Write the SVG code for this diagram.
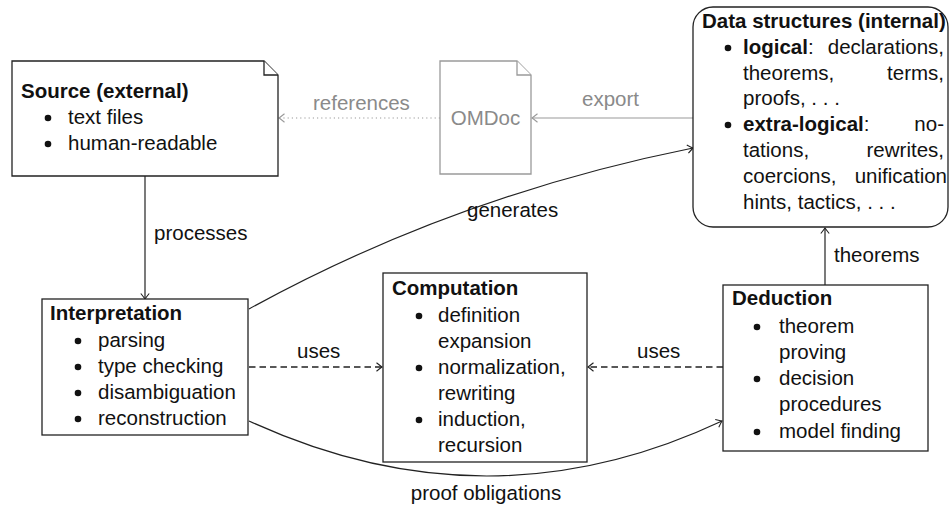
<svg xmlns="http://www.w3.org/2000/svg" width="951" height="508" viewBox="0 0 951 508">
<style>
text{font-family:"Liberation Sans",Arial,sans-serif;font-size:20.5px;fill:#111}
.b{font-weight:bold}
.box{fill:#fff;stroke:#222;stroke-width:1.3}
.gbox{fill:#fff;stroke:#9a9a9a;stroke-width:1.3}
.g{fill:#8a8a8a}
.e{fill:none;stroke:#222;stroke-width:1.2}
.ge{fill:none;stroke:#9a9a9a;stroke-width:1.2}
.dash{stroke-dasharray:6.5 4;stroke-width:1.3}
.dot{stroke-dasharray:1.2 3}
.bul{fill:#111}
</style>
<defs>
<marker id="a" markerUnits="userSpaceOnUse" viewBox="-7 -6 9 12" markerWidth="9" markerHeight="12" refX="0" refY="0" orient="auto" overflow="visible">
<path d="M-5.5,-4.2 Q-1.5,-1 0,0 Q-1.5,1 -5.5,4.2" fill="none" stroke="#222" stroke-width="1.1" stroke-dasharray="none"/>
</marker>
<marker id="ag" markerUnits="userSpaceOnUse" viewBox="-7 -6 9 12" markerWidth="9" markerHeight="12" refX="0" refY="0" orient="auto" overflow="visible">
<path d="M-5.5,-4.2 Q-1.5,-1 0,0 Q-1.5,1 -5.5,4.2" fill="none" stroke="#9a9a9a" stroke-width="1.1" stroke-dasharray="none"/>
</marker>
</defs>

<g id="connectors">
<path class="ge dot" d="M440,118 H279" marker-end="url(#ag)"/>
<path class="ge" d="M693,118 H532" marker-end="url(#ag)"/>
<path class="e" d="M145,176 V299" marker-end="url(#a)"/>
<path class="e" d="M249,309 Q454,196 693,148" marker-end="url(#a)"/>
<path class="e dash" d="M249,367 H382" marker-end="url(#a)"/>
<path class="e dash" d="M723,367 H588" marker-end="url(#a)"/>
<path class="e" d="M249,421 Q488,531 722,421" marker-end="url(#a)"/>
<path class="e" d="M825,285 V228" marker-end="url(#a)"/>
<text class="g" x="313" y="110">references</text>
<text class="g" x="582" y="106">export</text>
<text x="154" y="240">processes</text>
<text x="467" y="217">generates</text>
<text x="297" y="358">uses</text>
<text x="637" y="358">uses</text>
<text x="834" y="262">theorems</text>
<text x="486" y="500" text-anchor="middle">proof obligations</text>
</g>

<g id="source">
<path class="box" d="M12,61 H264 L278,75 V176 H12 Z"/>
<path class="box" d="M264,61 V75 H278" fill="none"/>
<text class="b" x="21" y="98">Source (external)</text>
<circle class="bul" cx="48" cy="118" r="3.3"/>
<text x="68" y="124">text files</text>
<circle class="bul" cx="48" cy="144" r="3.3"/>
<text x="68" y="150">human-readable</text>
</g>

<g id="omdoc">
<path class="gbox" d="M440,61 H517 L531,75 V174 H440 Z"/>
<path class="gbox" d="M517,61 V75 H531" fill="none"/>
<text class="g" x="485.5" y="125" text-anchor="middle">OMDoc</text>
</g>

<g id="data">
<rect class="box" x="693" y="7" width="255" height="220" rx="20" ry="20"/>
<text class="b" x="702" y="28">Data structures (internal)</text>
<circle class="bul" cx="728" cy="48" r="3.3"/>
<text x="743" y="54"><tspan class="b">logical</tspan>:</text>
<text x="944" y="54" text-anchor="end">declarations,</text>
<text x="743" y="80">theorems,</text>
<text x="944" y="80" text-anchor="end">terms,</text>
<text x="743" y="105">proofs, . . .</text>
<circle class="bul" cx="728" cy="125" r="3.3"/>
<text x="743" y="131"><tspan class="b">extra-logical</tspan>:</text>
<text x="944" y="131" text-anchor="end">no-</text>
<text x="743" y="157">tations,</text>
<text x="944" y="157" text-anchor="end">rewrites,</text>
<text x="743" y="183">coercions,</text>
<text x="947" y="183" text-anchor="end">unification</text>
<text x="743" y="209">hints, tactics, . . .</text>
</g>

<g id="interpretation">
<rect class="box" x="42" y="299" width="206" height="136"/>
<text class="b" x="50" y="320">Interpretation</text>
<circle class="bul" cx="78" cy="341" r="3.3"/>
<text x="98" y="347">parsing</text>
<circle class="bul" cx="78" cy="367" r="3.3"/>
<text x="98" y="373">type checking</text>
<circle class="bul" cx="78" cy="393" r="3.3"/>
<text x="98" y="399">disambiguation</text>
<circle class="bul" cx="78" cy="419" r="3.3"/>
<text x="98" y="425">reconstruction</text>
</g>

<g id="computation">
<rect class="box" x="383" y="273" width="204" height="189"/>
<text class="b" x="392" y="295">Computation</text>
<circle class="bul" cx="419" cy="316" r="3.3"/>
<text x="438" y="322">definition</text>
<text x="438" y="348">expansion</text>
<circle class="bul" cx="419" cy="368" r="3.3"/>
<text x="438" y="374">normalization,</text>
<text x="438" y="400">rewriting</text>
<circle class="bul" cx="419" cy="420" r="3.3"/>
<text x="438" y="426">induction,</text>
<text x="438" y="452">recursion</text>
</g>

<g id="deduction">
<rect class="box" x="723" y="285" width="205" height="166"/>
<text class="b" x="732" y="305">Deduction</text>
<circle class="bul" cx="757" cy="327" r="3.3"/>
<text x="779" y="333">theorem</text>
<text x="779" y="359">proving</text>
<circle class="bul" cx="757" cy="379" r="3.3"/>
<text x="779" y="385">decision</text>
<text x="779" y="411">procedures</text>
<circle class="bul" cx="757" cy="432" r="3.3"/>
<text x="779" y="438">model finding</text>
</g>
</svg>
